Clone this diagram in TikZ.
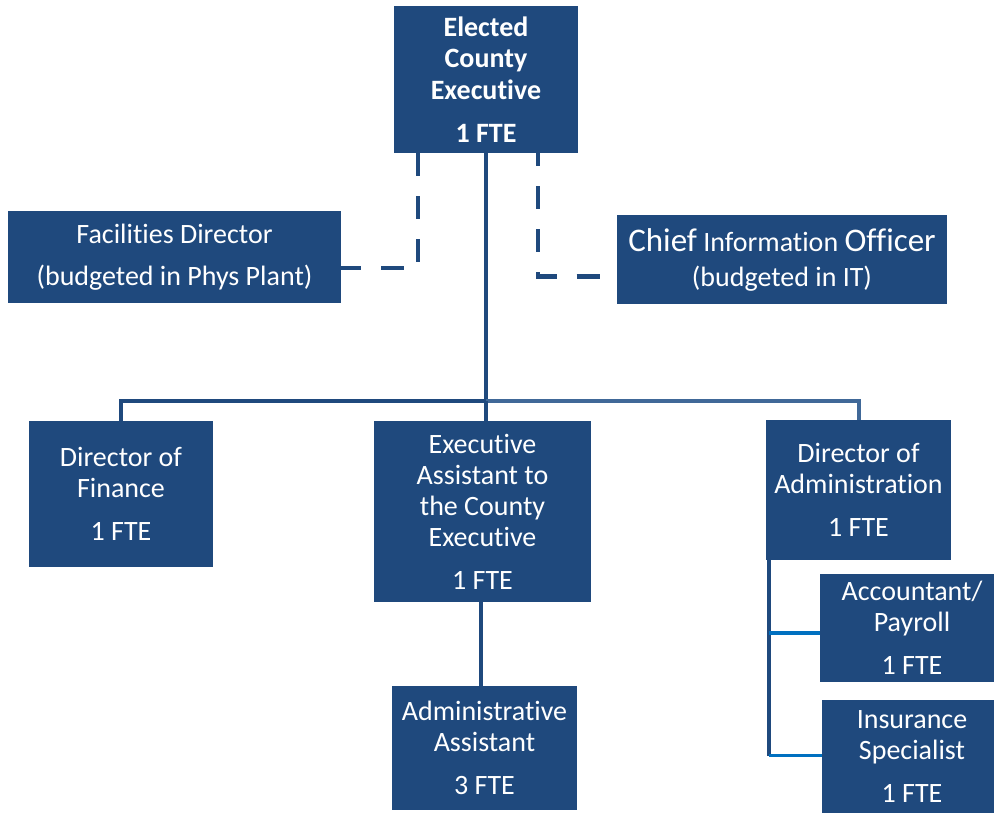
\documentclass[tikz,border=0pt]{standalone}
\usepackage{fontspec}
\setmainfont{Carlito}[Ligatures={NoCommon}]
\usetikzlibrary{calc}
\definecolor{boxblue}{RGB}{31,73,125}
\definecolor{busblue}{RGB}{64,104,152}
\definecolor{linkblue}{RGB}{0,112,192}
\tikzset{
  orgbox/.style={fill=boxblue, text=white, inner sep=0pt, align=center,
    font=\fontsize{28}{31}\selectfont},
  trunk/.style={boxblue, line width=4pt},
  trunkR/.style={busblue, line width=4pt},
  branch/.style={linkblue, line width=3.5pt},
  dotline/.style={boxblue, line width=4.5pt, dash pattern=on 23pt off 20pt}
}

\begin{document}
\begin{tikzpicture}[x=1pt,y=-1pt]
            \useasboundingbox (0,0) rectangle (994,814);

            % top of the chart
            \node[orgbox, minimum width=184pt, minimum height=147pt,
                  font=\fontsize{28}{31.5}\selectfont\bfseries] (exec) at (486,79.5)
                  {Elected\\County\\Executive\\[12pt]1 FTE};

            % dotted-line reports
            \node[orgbox, minimum width=333pt, minimum height=92pt] (fac) at (174.5,257)
                  {Facilities Director\\[11pt](budgeted in Phys Plant)};
            \node[orgbox, minimum width=330pt, minimum height=89pt] (cio) at (782,259.5)
                  {{\fontsize{33}{31}\selectfont Chief} Information {\fontsize{33}{31}\selectfont Officer}\\[4pt](budgeted in IT)};

            % second row
            \node[orgbox, minimum width=184pt, minimum height=146pt] (fin) at (121,494)
                  {Director of\\Finance\\[12pt]1 FTE};
            \node[orgbox, minimum width=217pt, minimum height=181pt] (ea) at (482.5,511.5)
                  {Executive\\Assistant to\\the County\\Executive\\[12pt]1 FTE};
            \node[orgbox, minimum width=185pt, minimum height=140pt] (dadm) at (858.5,490)
                  {Director of\\Administration\\[12pt]1 FTE};

            % third row
            \node[orgbox, minimum width=185pt, minimum height=124pt] (aa) at (484.5,748)
                  {Administrative\\Assistant\\[12pt]3 FTE};
            \node[orgbox, minimum width=174pt, minimum height=108pt] (acc) at (907,628)
                  {\hspace*{10pt}Accountant/\\\hspace*{10pt}Payroll\\[12pt]\hspace*{10pt}1 FTE};
            \node[orgbox, minimum width=172pt, minimum height=113pt] (ins) at (908,756.5)
                  {\hspace*{8pt}Insurance\\\hspace*{8pt}Specialist\\[12pt]\hspace*{8pt}1 FTE};

            \coordinate (bus) at (486,401);

            \draw[trunk] (exec.south) -- (bus);
            \draw[trunk] (bus) -| (fin.north);
            \draw[trunkR] (bus) -| (dadm.north);
            \draw[trunk] (bus) -- (bus |- ea.north);
            \draw[trunk] ($(ea.south)+(-1.5,0)$) -- ($(ea.south |- aa.north)+(-1.5,0)$);

            \draw[dotline] ($(exec.south)+(-68,0)$) |- ($(fac.east)+(0,11)$);
            \draw[dotline, dash phase=10pt] ($(exec.south)+(52,0)$) |- ($(cio.west)+(0,17)$);

            \draw[trunk] ($(dadm.south west)+(3,0)$) coordinate (sp) -- ($(sp |- ins.west)+(0,-1)$);
            \draw[branch] ($(sp |- acc.west)+(0,5)$) -- ($(acc.west)+(0,5)$);
            \draw[branch] ($(sp |- ins.west)+(0,-1)$) -- ($(ins.west)+(0,-1)$);
        \end{tikzpicture}
\end{document}
